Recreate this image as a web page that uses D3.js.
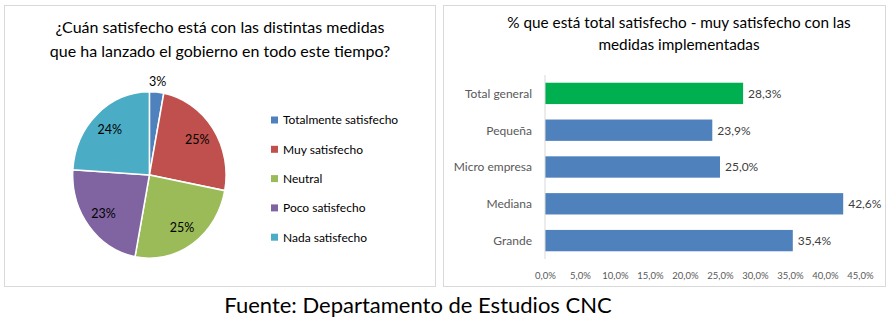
<!DOCTYPE html>
<html><head><meta charset="utf-8">
<script src="https://cdnjs.cloudflare.com/ajax/libs/d3/7.8.5/d3.min.js"></script>
<style>
html,body{margin:0;padding:0;background:#fff;}
svg{display:block;font-family:Lato, "Open Sans", sans-serif;}
</style></head>
<body>
<svg id="c" width="891" height="324"></svg>
<script>
// ---- data ----
const pieCategories = ["Totalmente satisfecho","Muy satisfecho","Neutral","Poco satisfecho","Nada satisfecho"];
const pieValues = [3, 25, 25, 23, 24];
const pieColors = ["#4F81BD","#C0504D","#9BBB59","#8064A2","#4BACC6"];
const pieTitle = ["¿Cuán satisfecho está con las distintas medidas","que ha lanzado el gobierno en todo este tiempo?"];

const barCategories = ["Total general","Pequeña","Micro empresa","Mediana","Grande"];
const barValues = [28.3, 23.9, 25.0, 42.6, 35.4];
const barColors = ["#00B050","#4F81BD","#4F81BD","#4F81BD","#4F81BD"];
const barTicks = [0,5,10,15,20,25,30,35,40,45];
const barTitle = ["% que está total satisfecho - muy satisfecho con las","medidas implementadas"];
const footer = "Fuente: Departamento de Estudios CNC";

const svg = d3.select("#c");
const fmt = v => v.toFixed(1).replace(".", ",") + "%";

// panels
svg.append("rect").attr("x",4.5).attr("y",5.5).attr("width",431).attr("height",281)
  .attr("fill","#fff").attr("stroke","#D9D9D9");
svg.append("rect").attr("x",443.5).attr("y",5.5).attr("width",442).attr("height",281)
  .attr("fill","#fff").attr("stroke","#D9D9D9");

// ---- pie ----
const cx = 149.4, cy = 175, R = 76.7, sy = 1.085;
svg.append("g").selectAll("text").data(pieTitle).join("text")
  .attr("x",220).attr("y",(d,i)=>33+i*24).attr("text-anchor","middle")
  .attr("font-size",16).attr("fill","#000").text(d=>d);

const pie = d3.pie().sort(null).value(d=>d)(pieValues);
const arc = d3.arc().innerRadius(0).outerRadius(R);
const gp = svg.append("g").attr("transform",`translate(${cx},${cy}) scale(1,${sy})`);
gp.selectAll("path").data(pie).join("path")
  .attr("d",arc).attr("fill",(d,i)=>pieColors[i])
  .attr("stroke","#fff").attr("stroke-width",1.5);
const labArc = d3.arc().innerRadius(58).outerRadius(58);
const outArc = d3.arc().innerRadius(R+10).outerRadius(R+10);
svg.append("g").selectAll("text").data(pie).join("text")
  .attr("x",d=>{const c=(d.data<5?outArc:labArc).centroid(d);return cx+c[0];})
  .attr("y",d=>{const c=(d.data<5?outArc:labArc).centroid(d);return cy+c[1]*sy;})
  .attr("dy","0.36em").attr("text-anchor","middle")
  .attr("font-size",12.5).attr("fill","#000").text(d=>d.data+"%");

// legend
const lg = svg.append("g");
pieCategories.forEach((c,i)=>{
  const y = 120 + i*29.3;
  lg.append("rect").attr("x",271).attr("y",y-3.5).attr("width",7).attr("height",7).attr("fill",pieColors[i]);
  lg.append("text").attr("x",283).attr("y",y).attr("dy","0.36em")
    .attr("font-size",12).attr("fill","#000").text(c);
});

// ---- bar ----
svg.append("g").selectAll("text").data(barTitle).join("text")
  .attr("x",679).attr("y",(d,i)=>28+i*22).attr("text-anchor","middle")
  .attr("font-size",15.3).attr("fill","#000").text(d=>d);

const x = d3.scaleLinear().domain([0,45]).range([545,860]);
const y = d3.scaleBand().domain(barCategories).range([75,259]).paddingInner(0.42).paddingOuter(0.21);
const gb = svg.append("g");
gb.selectAll("rect.bar").data(barValues).join("rect").attr("class","bar")
  .attr("x",x(0)).attr("y",(d,i)=>y(barCategories[i]))
  .attr("width",d=>x(d)-x(0)).attr("height",y.bandwidth())
  .attr("fill",(d,i)=>barColors[i]);
gb.selectAll("text.val").data(barValues).join("text").attr("class","val")
  .attr("x",d=>x(d)+5).attr("y",(d,i)=>y(barCategories[i])+y.bandwidth()/2).attr("dy","0.36em")
  .attr("font-size",12).attr("fill","#404040").text(d=>fmt(d));
gb.selectAll("text.cat").data(barCategories).join("text").attr("class","cat")
  .attr("x",532).attr("y",d=>y(d)+y.bandwidth()/2).attr("dy","0.36em").attr("text-anchor","end")
  .attr("font-size",12).attr("fill","#595959").text(d=>d);
gb.append("line").attr("x1",x(0)).attr("x2",x(0)).attr("y1",75).attr("y2",259)
  .attr("stroke","#D9D9D9").attr("stroke-width",1);
const xa = gb.append("g").attr("transform","translate(0,276)")
  .call(d3.axisBottom(x).tickValues(barTicks).tickSize(0).tickFormat(d=>fmt(d)));
xa.select(".domain").remove();
xa.selectAll("text").attr("dy","0.36em").attr("y",0).attr("font-size",9.5).attr("fill","#595959")
  .attr("font-family","Lato, 'Open Sans', sans-serif");

// footer
svg.append("text").attr("x",418).attr("y",313).attr("text-anchor","middle")
  .attr("font-size",22).attr("fill","#000").text(footer);
</script>
</body></html>
